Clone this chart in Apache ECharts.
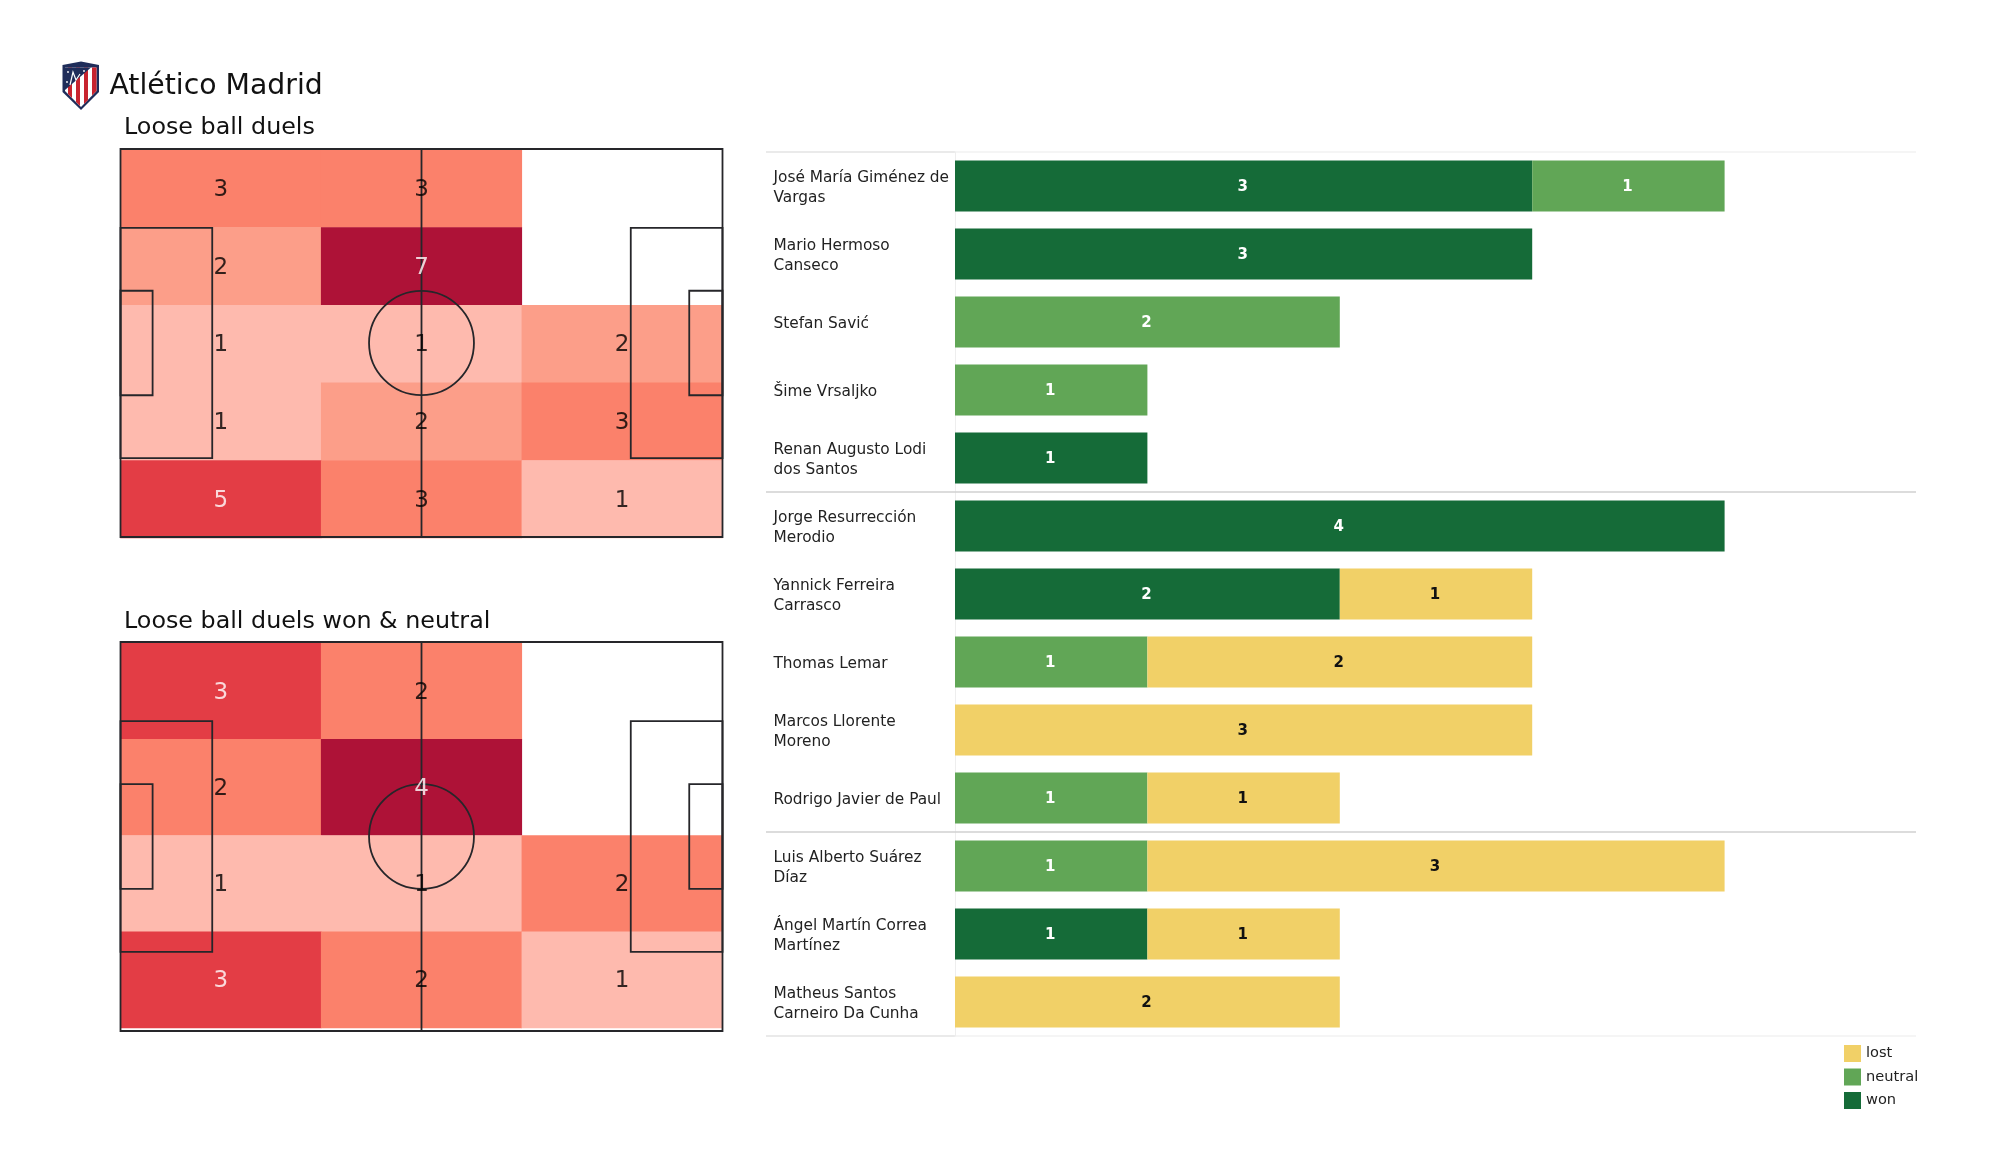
<!DOCTYPE html>
<html><head><meta charset="utf-8">
<style>html,body{margin:0;padding:0;background:#fff}#c{width:2000px;height:1175px}</style>
<script src="https://cdn.jsdelivr.net/npm/echarts@6/dist/echarts.min.js"></script>
</head><body><div id="c"></div>
<script>
const FONT = '"DejaVu Sans"';
const teamName = 'Atlético Madrid';
const heatTitleA = 'Loose ball duels';
const heatTitleB = 'Loose ball duels won & neutral';

const zones = ['left', 'centre', 'right'];
const rowsA = ['r1', 'r2', 'r3', 'r4', 'r5'];
const rowsB = ['r1', 'r2', 'r3', 'r4'];
const duelsAll = [[3,3,0],[2,7,0],[1,1,2],[1,2,3],[5,3,1]];
const duelsWonNeutral = [[3,2,0],[2,4,0],[1,1,2],[3,2,1]];
const shadesAll = {1:'#febaae',2:'#fc9e89',3:'#fb816b',5:'#e33d45',7:'#ae1237'};
const shadesWonNeutral = {1:'#febaae',2:'#fb816b',3:'#e33d45',4:'#ae1237'};
const whiteLabelsAll = [5,7];
const whiteLabelsWonNeutral = [3,4];

const players = ['José María Giménez de\nVargas','Mario Hermoso\nCanseco','Stefan Savić','Šime Vrsaljko','Renan Augusto Lodi\ndos Santos','Jorge Resurrección\nMerodio','Yannick Ferreira\nCarrasco','Thomas Lemar','Marcos Llorente\nMoreno','Rodrigo Javier de Paul','Luis Alberto Suárez\nDíaz','Ángel Martín Correa\nMartínez','Matheus Santos\nCarneiro Da Cunha'];
const won     = [3,3,0,0,1,4,2,0,0,0,0,1,0];
const neutral = [1,0,2,1,0,0,0,1,0,1,1,0,0];
const lost    = [0,0,0,0,0,0,1,2,3,1,3,1,2];
const outcomeColors = {won:'#156b38', neutral:'#61a656', lost:'#f1d067'};
const legendOrder = ['lost','neutral','won'];

// pitch markings in metres: [x0, y0, x1, y1, kind]
const pitchMarks = [
  [0,0,105,68,'rect'],
  [52.5,0,52.5,68,'line'],
  [0,13.84,16,54.16,'rect'],
  [89,13.84,105,54.16,'rect'],
  [0,24.84,5.6,43.16,'rect'],
  [99.2,24.84,105,43.16,'rect'],
  [43.35,24.85,61.65,43.15,'ellipse']
];
// row boundaries of the player table: [y, xStartShare, xEndShare, colour, width]
const tableRules = [
  [0,0,0.1643,'#d6d6d6',1.2],[0,0.1643,1,'#ececec',1.2],
  [5,0,1,'#d0d0d0',1.6],[10,0,1,'#d0d0d0',1.6],
  [13,0,0.1643,'#d6d6d6',1.2],[13,0.1643,1,'#ececec',1.2]
];

const chart = echarts.init(document.getElementById('c'), null, {renderer:'canvas'});

const H = {left:120.5, width:602};
const grids = [
  {left:H.left, width:H.width, top:150, height:388},
  {left:H.left, width:H.width, top:149, height:388},
  {left:H.left, width:H.width, top:643, height:385},
  {left:H.left, width:H.width, top:642, height:389},
  {left:955, width:962, top:152, height:884},
  {left:766, width:1150, top:152, height:884},
  {left:955, width:962, top:154, height:884}
];
const hiddenCat = (g, d, inv) => ({type:'category', gridIndex:g, data:d, show:false, inverse:!!inv});
const hiddenVal = (g, max, inv) => ({type:'value', gridIndex:g, min:0, max:max, show:false, inverse:!!inv, splitLine:{show:false}});

const xAxis = [
  hiddenCat(0,zones), hiddenVal(1,105), hiddenCat(2,zones), hiddenVal(3,105),
  {type:'value', gridIndex:4, min:0, max:5, show:false, splitLine:{show:false}},
  hiddenVal(5,1),
  hiddenVal(6,5)
];
const yAxis = [
  hiddenCat(0,rowsA,true), hiddenVal(1,68), hiddenCat(2,rowsB,true), hiddenVal(3,68),
  {type:'category', gridIndex:4, data:players, inverse:true,
   axisLine:{show:true, lineStyle:{color:'#eeeeee', width:1}}, axisTick:{show:false},
   axisLabel:{show:false}},
  hiddenVal(5,13,true),
  {type:'category', gridIndex:6, data:players, inverse:true,
   axisLine:{show:false}, axisTick:{show:false},
   axisLabel:{margin:181.5, align:'left', color:'#222', fontFamily:FONT, fontSize:15.35, lineHeight:20}}
];

function heat(idx, matrix, shades, white){
  const cells = [], labels = [];
  matrix.forEach((row,r)=>row.forEach((v,c)=>{
    if(!v) return;
    cells.push({value:[c,r,v], itemStyle:{color:shades[v]}});
    labels.push({value:[c,r,v], label:{color: white.includes(v)?'#fff':'#000'}});
  }));
  return [
    {type:'heatmap', xAxisIndex:idx, yAxisIndex:idx, data:cells, z:2, silent:true, animation:false, label:{show:false}},
    {type:'scatter', xAxisIndex:idx, yAxisIndex:idx, data:labels, symbolSize:0, z:5, silent:true, animation:false,
     label:{show:true, position:'inside', offset:[0,1.5], fontFamily:FONT, fontSize:23, formatter:p=>String(p.value[2])}}
  ];
}
function marks(idx){
  return {type:'custom', xAxisIndex:idx, yAxisIndex:idx, z:4, silent:true, animation:false, clip:false,
    data:pitchMarks, encode:{x:[0,2], y:[1,3]},
    renderItem:(p,api)=>{
      const a = api.coord([api.value(0),api.value(1)]), b = api.coord([api.value(2),api.value(3)]);
      const kind = pitchMarks[p.dataIndex][4];
      const style = {stroke:'#26262a', lineWidth:1.8, fill:null};
      if(kind==='line') return {type:'line', shape:{x1:a[0],y1:a[1],x2:b[0],y2:b[1]}, style};
      if(kind==='rect') return {type:'rect', shape:{x:a[0],y:b[1],width:b[0]-a[0],height:a[1]-b[1]}, style};
      return {type:'ellipse', shape:{cx:(a[0]+b[0])/2, cy:(a[1]+b[1])/2, rx:(b[0]-a[0])/2, ry:(a[1]-b[1])/2}, style};
    }};
}
function stack(name, values){
  return {type:'bar', name, xAxisIndex:4, yAxisIndex:4, stack:'o', barWidth:51, animation:false, silent:true,
    itemStyle:{color:outcomeColors[name]},
    label:{show:true, position:'inside', offset:[-1,1], fontFamily:FONT, fontWeight:'bold', fontSize:15,
      color:name==='lost'?'#111':'#fff', formatter:p=>p.value?String(p.value):''},
    data:values.map(v=>v||null)};
}
const rules = {type:'custom', xAxisIndex:5, yAxisIndex:5, z:1, silent:true, animation:false, clip:false,
  data:tableRules.map(r=>[r[1],r[0],r[2],r[0]]), encode:{x:[0,2], y:[1,3]},
  renderItem:(p,api)=>{
    const a = api.coord([api.value(0),api.value(1)]), b = api.coord([api.value(2),api.value(3)]);
    const r = tableRules[p.dataIndex];
    return {type:'line', shape:{x1:a[0],y1:a[1],x2:b[0],y2:b[1]}, style:{stroke:r[3], lineWidth:r[4]}};
  }};

const titleStyle = s => ({fontFamily:FONT, fontWeight:'normal', fontSize:s, color:'#111'});
chart.setOption({
  animation:false, backgroundColor:'#fff',
  title:[
    {text:teamName, left:109.5, top:72.5, padding:0, textStyle:titleStyle(28.3)},
    {text:heatTitleA, left:124, top:115.5, padding:0, textStyle:titleStyle(23.8)},
    {text:heatTitleB, left:124, top:610, padding:0, textStyle:titleStyle(23.8)}
  ],
  legend:{data:legendOrder, orient:'vertical', left:1844, top:1045, padding:0, itemWidth:17, itemHeight:17, itemGap:6.5,
    icon:'rect', selectedMode:false, textStyle:{fontFamily:FONT, fontSize:14.6, color:'#222', padding:[7,0,0,0]}},
  grid:grids, xAxis, yAxis,
  series:[
    ...heat(0,duelsAll,shadesAll,whiteLabelsAll), marks(1),
    ...heat(2,duelsWonNeutral,shadesWonNeutral,whiteLabelsWonNeutral), marks(3),
    rules,
    stack('won',won), stack('neutral',neutral), stack('lost',lost)
  ],
  graphic:{elements:[
    {type:'group', silent:true, children:[
      {type:'polygon', shape:{points:[[62.5,65],[81,61.5],[99,65],[99,92],[81,110],[62.5,92]]}, style:{fill:'#1f2d5a'}},
      {type:'polygon', shape:{points:[[65,67.5],[96.5,67.5],[96.5,91],[81,107],[65,91]]}, style:{fill:'#ffffff'}},
      {type:'polygon', shape:{points:[[68,67.5],[72,67.5],[72,98],[68,94]]}, style:{fill:'#c8242f'}},
      {type:'polygon', shape:{points:[[76,67.5],[80,67.5],[80,106],[76,102]]}, style:{fill:'#c8242f'}},
      {type:'polygon', shape:{points:[[84,67.5],[88,67.5],[88,100],[84,104]]}, style:{fill:'#c8242f'}},
      {type:'polygon', shape:{points:[[92,67.5],[96.5,67.5],[96.5,91],[92,95.5]]}, style:{fill:'#c8242f'}},
      {type:'polygon', shape:{points:[[65,67.5],[91,67.5],[65,90]]}, style:{fill:'#1f2d5a'}},
      {type:'polyline', shape:{points:[[70,85],[73,72],[76,80],[80,74]]}, style:{stroke:'#ffffff', lineWidth:1.2, fill:null}},
      {type:'circle', shape:{cx:68,cy:72,r:0.9}, style:{fill:'#ffffff'}},
      {type:'circle', shape:{cx:84,cy:71,r:0.9}, style:{fill:'#ffffff'}},
      {type:'circle', shape:{cx:67,cy:82,r:0.9}, style:{fill:'#ffffff'}}
    ]}
  ]}
});
</script></body></html>
